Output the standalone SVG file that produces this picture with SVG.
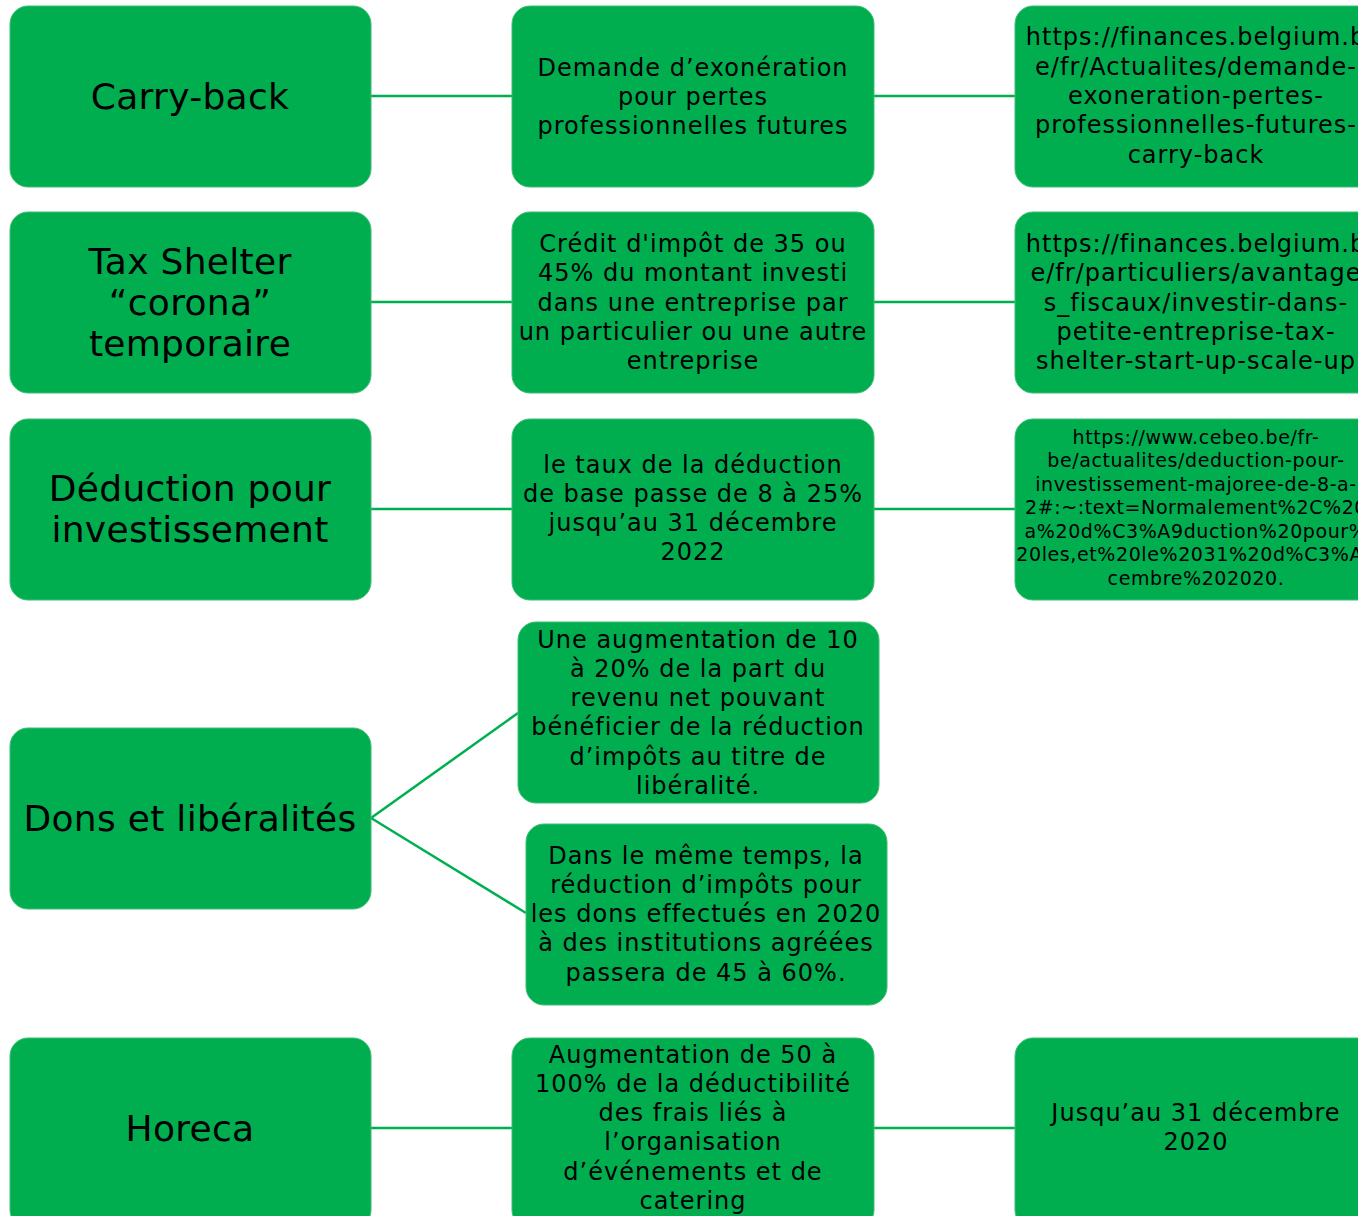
<svg xmlns="http://www.w3.org/2000/svg" width="1358" height="1216" viewBox="0 0 1358 1216">
<style>
.box{fill:#00AE50;stroke:#3DBE74;stroke-width:1}
.conn{stroke:#00B050;stroke-width:2.5;fill:none}
text{font-family:"DejaVu Sans","Liberation Sans",sans-serif;fill:#000;text-anchor:middle}
.t1{font-size:36px;letter-spacing:0.3px}
.t2{font-size:24px;letter-spacing:1px}
.t3{font-size:19px;letter-spacing:0.6px}
</style>
<rect width="1358" height="1216" fill="#fff"/>
<g id="connectors">
<line class="conn" x1="371" y1="96" x2="512" y2="96"/>
<line class="conn" x1="874" y1="96" x2="1015" y2="96"/>
<line class="conn" x1="371" y1="302" x2="512" y2="302"/>
<line class="conn" x1="874" y1="302" x2="1015" y2="302"/>
<line class="conn" x1="371" y1="509" x2="512" y2="509"/>
<line class="conn" x1="874" y1="509" x2="1015" y2="509"/>
<line class="conn" x1="371" y1="818" x2="518" y2="713"/>
<line class="conn" x1="371" y1="818" x2="526" y2="913"/>
<line class="conn" x1="371" y1="1128" x2="512" y2="1128"/>
<line class="conn" x1="874" y1="1128" x2="1015" y2="1128"/>
</g>
<g id="n-carryback"><rect class="box" x="10" y="6" width="361" height="181" rx="18"/>
<text class="t1" x="190" y="109">Carry-back</text></g>
<g id="n-demande"><rect class="box" x="512" y="6" width="362" height="181" rx="18"/>
<text class="t2" x="693"><tspan x="693" y="76">Demande d’exonération</tspan><tspan x="693" y="105">pour pertes</tspan><tspan x="693" y="134">professionnelles futures</tspan></text></g>
<g id="n-url1"><rect class="box" x="1015" y="6" width="362" height="181" rx="18"/>
<text class="t2" x="1196"><tspan x="1196" y="45">https://finances.belgium.b</tspan><tspan x="1196" y="75">e/fr/Actualites/demande-</tspan><tspan x="1196" y="104">exoneration-pertes-</tspan><tspan x="1196" y="133">professionnelles-futures-</tspan><tspan x="1196" y="163">carry-back</tspan></text></g>

<g id="n-taxshelter"><rect class="box" x="10" y="212" width="361" height="181" rx="18"/>
<text class="t1" x="190"><tspan x="190" y="274">Tax Shelter</tspan><tspan x="190" y="315">“corona”</tspan><tspan x="190" y="356">temporaire</tspan></text></g>
<g id="n-credit"><rect class="box" x="512" y="212" width="362" height="181" rx="18"/>
<text class="t2" x="693"><tspan x="693" y="252">Crédit d'impôt de 35 ou</tspan><tspan x="693" y="281">45% du montant investi</tspan><tspan x="693" y="311">dans une entreprise par</tspan><tspan x="693" y="340">un particulier ou une autre</tspan><tspan x="693" y="369">entreprise</tspan></text></g>
<g id="n-url2"><rect class="box" x="1015" y="212" width="362" height="181" rx="18"/>
<text class="t2" x="1196"><tspan x="1196" y="252">https://finances.belgium.b</tspan><tspan x="1196" y="281">e/fr/particuliers/avantage</tspan><tspan x="1196" y="311">s_fiscaux/investir-dans-</tspan><tspan x="1196" y="340">petite-entreprise-tax-</tspan><tspan x="1196" y="369">shelter-start-up-scale-up</tspan></text></g>

<g id="n-deduction"><rect class="box" x="10" y="419" width="361" height="181" rx="18"/>
<text class="t1" x="190"><tspan x="190" y="501">Déduction pour</tspan><tspan x="190" y="542">investissement</tspan></text></g>
<g id="n-taux"><rect class="box" x="512" y="419" width="362" height="181" rx="18"/>
<text class="t2" x="693"><tspan x="693" y="473">le taux de la déduction</tspan><tspan x="693" y="502">de base passe de 8 à 25%</tspan><tspan x="693" y="531">jusqu’au 31 décembre</tspan><tspan x="693" y="560">2022</tspan></text></g>
<g id="n-url3"><rect class="box" x="1015" y="419" width="362" height="181" rx="18"/>
<text class="t3" x="1196"><tspan x="1196" y="444">https://www.cebeo.be/fr-</tspan><tspan x="1196" y="467">be/actualites/deduction-pour-</tspan><tspan x="1196" y="491">investissement-majoree-de-8-a-</tspan><tspan x="1196" y="514">2#:~:text=Normalement%2C%20</tspan><tspan x="1196" y="538">a%20d%C3%A9duction%20pour%</tspan><tspan x="1196" y="561">20les,et%20le%2031%20d%C3%A9</tspan><tspan x="1196" y="585">cembre%202020.</tspan></text></g>

<g id="n-dons"><rect class="box" x="10" y="728" width="361" height="181" rx="18"/>
<text class="t1" x="190" y="831">Dons et libéralités</text></g>
<g id="n-augmentation"><rect class="box" x="518" y="622" width="361" height="181" rx="18"/>
<text class="t2" x="698"><tspan x="698" y="648">Une augmentation de 10</tspan><tspan x="698" y="677">à 20% de la part du</tspan><tspan x="698" y="706">revenu net pouvant</tspan><tspan x="698" y="735">bénéficier de la réduction</tspan><tspan x="698" y="765">d’impôts au titre de</tspan><tspan x="698" y="794">libéralité.</tspan></text></g>
<g id="n-memetemps"><rect class="box" x="526" y="824" width="361" height="181" rx="18"/>
<text class="t2" x="706"><tspan x="706" y="864">Dans le même temps, la</tspan><tspan x="706" y="893">réduction d’impôts pour</tspan><tspan x="706" y="922">les dons effectués en 2020</tspan><tspan x="706" y="951">à des institutions agréées</tspan><tspan x="706" y="981">passera de 45 à 60%.</tspan></text></g>

<g id="n-horeca"><rect class="box" x="10" y="1038" width="361" height="190" rx="18"/>
<text class="t1" x="190" y="1141">Horeca</text></g>
<g id="n-frais"><rect class="box" x="512" y="1038" width="362" height="190" rx="18"/>
<text class="t2" x="693"><tspan x="693" y="1063">Augmentation de 50 à</tspan><tspan x="693" y="1092">100% de la déductibilité</tspan><tspan x="693" y="1121">des frais liés à</tspan><tspan x="693" y="1150">l’organisation</tspan><tspan x="693" y="1180">d’événements et de</tspan><tspan x="693" y="1209">catering</tspan></text></g>
<g id="n-jusquau"><rect class="box" x="1015" y="1038" width="362" height="190" rx="18"/>
<text class="t2" x="1196"><tspan x="1196" y="1121">Jusqu’au 31 décembre</tspan><tspan x="1196" y="1150">2020</tspan></text></g>
</svg>
